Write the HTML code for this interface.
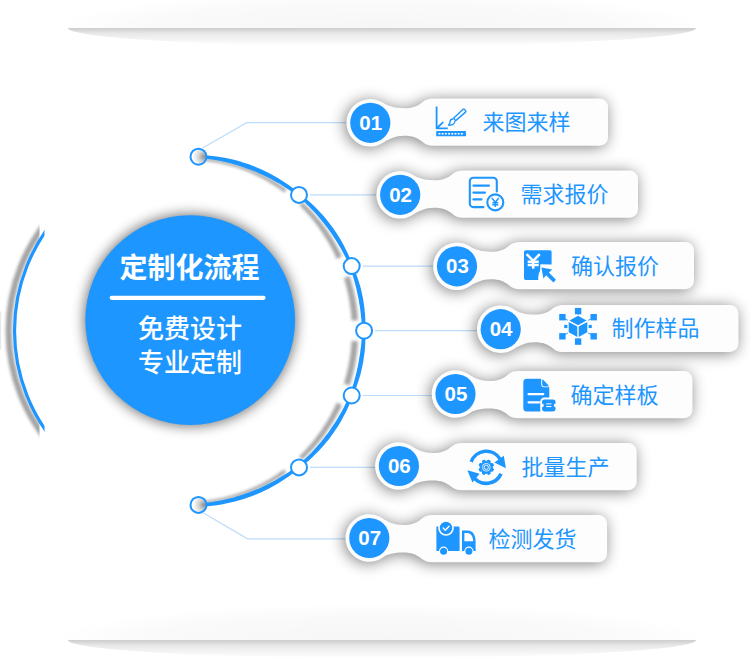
<!DOCTYPE html>
<html><head><meta charset="utf-8"><title>定制化流程</title>
<style>html,body{margin:0;padding:0;background:#fff;font-family:"Liberation Sans",sans-serif}svg{display:block}</style></head><body>
<svg width="750" height="672" viewBox="0 0 750 672" role="img" aria-label="定制化流程">
<desc>定制化流程 免费设计 专业定制 01 来图来样 02 需求报价 03 确认报价 04 制作样品 05 确定样板 06 批量生产 07 检测发货</desc>
<defs>
<filter id="ps" x="-15%" y="-60%" width="130%" height="220%"><feGaussianBlur stdDeviation="7.2"/></filter>
<filter id="cs" x="-20%" y="-20%" width="140%" height="140%"><feGaussianBlur stdDeviation="6.5"/></filter>
<filter id="as" x="-20%" y="-20%" width="140%" height="140%"><feGaussianBlur stdDeviation="1.5"/></filter>
<linearGradient id="tg" gradientUnits="userSpaceOnUse" x1="0" y1="28" x2="0" y2="46"><stop offset="0" stop-color="#000" stop-opacity=".2"/><stop offset=".3" stop-color="#000" stop-opacity=".09"/><stop offset="1" stop-color="#000" stop-opacity="0"/></linearGradient>
<linearGradient id="tg2" gradientUnits="userSpaceOnUse" x1="0" y1="640" x2="0" y2="658"><stop offset="0" stop-color="#000" stop-opacity=".2"/><stop offset=".3" stop-color="#000" stop-opacity=".09"/><stop offset="1" stop-color="#000" stop-opacity="0"/></linearGradient>
<radialGradient id="bg1" gradientUnits="userSpaceOnUse" cx="380" cy="28" r="330" gradientTransform="translate(0 28) scale(1 .11) translate(0 -28)"><stop offset="0" stop-color="#000" stop-opacity=".035"/><stop offset=".7" stop-color="#000" stop-opacity=".02"/><stop offset="1" stop-color="#000" stop-opacity="0"/></radialGradient>
<radialGradient id="bg2" gradientUnits="userSpaceOnUse" cx="380" cy="640" r="330" gradientTransform="translate(0 640) scale(1 .11) translate(0 -640)"><stop offset="0" stop-color="#000" stop-opacity=".035"/><stop offset=".7" stop-color="#000" stop-opacity=".02"/><stop offset="1" stop-color="#000" stop-opacity="0"/></radialGradient>
<clipPath id="c1"><rect x="0" y="28" width="750" height="40"/></clipPath>
<clipPath id="c2"><rect x="0" y="640" width="750" height="32"/></clipPath>
<clipPath id="cl"><rect x="0" y="200" width="44.5" height="260"/></clipPath>
<clipPath id="cl2"><rect x="0" y="200" width="39.5" height="260"/></clipPath>
<radialGradient id="ng" cx=".85" cy=".5" r=".7"><stop offset="0" stop-color="#8f8f8f"/><stop offset=".45" stop-color="#d0d0d0"/><stop offset="1" stop-color="#fff"/></radialGradient>
</defs>
<rect width="750" height="672" fill="#fff"/>
<rect x="40" y="0" width="680" height="28" fill="url(#bg1)"/>
<g clip-path="url(#c1)"><ellipse cx="382" cy="28" rx="314" ry="18" fill="url(#tg)"/></g>
<rect x="40" y="600" width="680" height="40" fill="url(#bg2)"/><rect x="0" y="311.5" width="1.2" height="38" fill="#e8e8e8"/>
<g clip-path="url(#c2)"><ellipse cx="382" cy="640" rx="314" ry="18" fill="url(#tg2)"/></g>
<g fill="none" stroke="#bddcfb" stroke-width="1.2">
<path d="M203 147.7L246.7 122.7H347"/>
<path d="M203.4 513L247.6 538.8H346"/>
<path d="M310.0 194.9H377.2"/>
<path d="M362.7 266.1H434.0"/>
<path d="M375.1 330.7H477.7"/>
<path d="M362.7 395.5H432.5"/>
<path d="M310.0 467.4H375.9"/>
</g>
<g clip-path="url(#cl2)" fill="none"><circle cx="183.29999999999998" cy="330.8" r="174.6" stroke="#000" stroke-opacity=".36" stroke-width="6.2" filter="url(#as)"/></g>
<g clip-path="url(#cl)" fill="none"><circle cx="189.1" cy="330.8" r="174.6" stroke="#1e96ff" stroke-width="3.2"/></g>
<path d="M201.5 158.0L207.1 158.5L212.8 159.2L218.5 160.1L224.1 161.2L229.6 162.5L235.2 164.0L240.6 165.7L246.1 167.6L251.4 169.7L256.7 171.9L261.9 174.4L267.1 177.0L272.1 179.8L277.1 182.8L281.9 185.9L286.7 189.2L284.4 192.4L279.8 189.1L275.2 185.9L270.4 182.9L265.5 180.0L260.5 177.4L255.4 174.9L250.3 172.6L245.0 170.5L239.7 168.6L234.4 166.8L229.0 165.3L223.5 163.9L218.0 162.8L212.4 161.9L206.9 161.1L201.3 160.6ZM302.5 202.2L305.5 205.1L308.5 208.0L311.4 211.1L314.2 214.2L317.0 217.4L319.7 220.6L322.3 223.9L324.8 227.3L327.3 230.8L329.6 234.3L331.9 237.8L334.1 241.5L336.2 245.2L338.2 248.9L340.1 252.7L342.0 256.5L336.8 259.0L335.1 255.2L333.3 251.5L331.4 247.8L329.4 244.2L327.4 240.7L325.2 237.2L323.0 233.7L320.7 230.3L318.3 227.0L315.9 223.7L313.4 220.5L310.7 217.3L308.1 214.2L305.3 211.2L302.5 208.3L299.6 205.4ZM349.6 276.0L350.5 278.6L351.3 281.3L352.0 284.1L352.7 286.8L353.4 289.5L354.1 292.3L354.7 295.0L355.2 297.8L355.7 300.6L356.2 303.3L356.6 306.1L356.9 308.9L357.3 311.7L357.6 314.6L357.8 317.4L358.0 320.2L351.6 320.6L351.4 317.9L351.2 315.1L351.0 312.4L350.7 309.7L350.3 307.0L349.9 304.3L349.5 301.6L349.0 299.0L348.5 296.3L348.0 293.6L347.4 291.0L346.8 288.3L346.1 285.7L345.4 283.1L344.7 280.5L343.9 277.9ZM358.0 341.2L357.8 344.0L357.6 346.9L357.3 349.7L357.0 352.5L356.6 355.3L356.2 358.1L355.7 360.9L355.2 363.7L354.7 366.5L354.1 369.3L353.4 372.0L352.8 374.8L352.0 377.5L351.3 380.2L350.5 382.9L349.6 385.6L343.9 383.7L344.7 381.1L345.4 378.5L346.1 375.9L346.8 373.2L347.4 370.6L348.0 367.9L348.6 365.2L349.1 362.5L349.5 359.8L350.0 357.1L350.3 354.4L350.7 351.7L351.0 349.0L351.2 346.3L351.4 343.6L351.6 340.8ZM342.0 405.1L340.1 408.9L338.2 412.8L336.1 416.5L334.0 420.2L331.8 423.9L329.5 427.5L327.1 431.0L324.7 434.5L322.1 437.9L319.5 441.2L316.8 444.5L314.0 447.7L311.2 450.8L308.2 453.8L305.2 456.8L302.2 459.7L299.3 456.5L302.2 453.6L305.1 450.7L307.8 447.6L310.5 444.5L313.2 441.4L315.7 438.1L318.2 434.8L320.6 431.5L322.9 428.0L325.2 424.6L327.3 421.0L329.4 417.5L331.4 413.8L333.3 410.1L335.1 406.4L336.8 402.6ZM286.3 472.6L281.6 475.9L276.8 479.0L271.8 482.0L266.8 484.7L261.7 487.3L256.5 489.8L251.2 492.0L245.9 494.1L240.5 495.9L235.0 497.6L229.5 499.1L224.0 500.4L218.4 501.5L212.8 502.4L207.1 503.1L201.5 503.6L201.3 501.0L206.8 500.5L212.4 499.7L217.9 498.8L223.4 497.7L228.8 496.3L234.2 494.8L239.6 493.1L244.8 491.2L250.0 489.1L255.2 486.8L260.2 484.4L265.2 481.7L270.1 478.9L274.9 475.9L279.5 472.8L284.1 469.5Z" fill="#000" fill-opacity=".35" filter="url(#as)"/>
<path d="M198.6 154.8L203.2 155.0L207.8 155.4L212.4 155.9L216.9 156.5L221.5 157.2L226.0 158.0L230.5 159.0L235.0 160.1L239.4 161.3L243.9 162.7L248.2 164.1L252.6 165.7L256.8 167.4L261.1 169.3L265.2 171.2L269.4 173.3L273.4 175.5L277.4 177.8L281.4 180.2L285.2 182.7L289.0 185.3L292.7 188.0L296.4 190.8L299.9 193.8L297.9 196.3L294.3 193.6L290.6 191.0L286.9 188.4L283.1 186.0L279.2 183.6L275.3 181.4L271.4 179.2L267.4 177.2L263.3 175.2L259.3 173.4L255.1 171.6L250.9 169.9L246.7 168.4L242.5 166.9L238.2 165.5L233.9 164.3L229.5 163.1L225.1 162.1L220.7 161.1L216.3 160.3L211.9 159.6L207.4 159.0L202.9 158.5L198.4 158.1ZM299.9 193.8L302.9 196.1L305.8 198.5L308.6 201.0L311.4 203.5L314.1 206.1L316.8 208.7L319.4 211.4L322.0 214.2L324.5 217.1L326.9 220.0L329.2 222.9L331.5 225.9L333.7 229.0L335.8 232.1L337.9 235.3L339.9 238.5L341.8 241.8L343.6 245.1L345.3 248.4L347.0 251.8L348.6 255.2L350.1 258.6L351.5 262.1L352.9 265.6L349.8 266.9L348.3 263.5L346.8 260.1L345.2 256.8L343.5 253.5L341.8 250.3L339.9 247.1L338.1 243.9L336.2 240.8L334.2 237.7L332.1 234.6L330.0 231.6L327.9 228.6L325.7 225.7L323.4 222.8L321.1 219.9L318.7 217.1L316.3 214.3L313.8 211.6L311.3 208.9L308.7 206.3L306.1 203.7L303.4 201.2L300.6 198.7L297.9 196.3ZM352.9 265.6L353.9 268.2L355.0 270.8L356.0 273.4L356.9 276.0L357.8 278.6L358.7 281.3L359.5 283.9L360.3 286.6L361.0 289.3L361.6 292.0L362.2 294.7L362.8 297.5L363.3 300.2L363.7 303.0L364.1 305.7L364.5 308.5L364.7 311.2L365.0 314.0L365.2 316.8L365.3 319.6L365.4 322.4L365.4 325.1L365.4 327.9L365.3 330.7L362.0 330.7L361.9 328.0L361.8 325.3L361.6 322.5L361.4 319.8L361.1 317.1L360.8 314.4L360.5 311.7L360.2 309.0L359.8 306.3L359.3 303.7L358.9 301.0L358.4 298.3L357.8 295.6L357.3 293.0L356.7 290.3L356.1 287.7L355.4 285.1L354.7 282.4L354.0 279.8L353.2 277.2L352.4 274.6L351.6 272.0L350.7 269.4L349.8 266.9ZM365.3 330.7L365.4 333.5L365.4 336.3L365.4 339.1L365.3 341.9L365.2 344.6L365.0 347.4L364.8 350.2L364.5 353.0L364.1 355.8L363.7 358.5L363.3 361.3L362.8 364.0L362.2 366.8L361.6 369.5L361.0 372.2L360.3 374.9L359.5 377.6L358.7 380.3L357.8 382.9L356.9 385.6L356.0 388.2L355.0 390.8L353.9 393.4L352.9 396.0L349.8 394.7L350.7 392.2L351.6 389.6L352.4 387.0L353.2 384.4L354.0 381.8L354.7 379.1L355.4 376.5L356.1 373.8L356.7 371.2L357.3 368.5L357.9 365.9L358.4 363.2L358.9 360.5L359.3 357.8L359.8 355.1L360.2 352.4L360.5 349.7L360.9 347.0L361.2 344.3L361.4 341.6L361.6 338.9L361.8 336.2L362.0 333.4L362.0 330.7ZM352.9 396.0L351.5 399.5L350.1 403.0L348.5 406.5L346.9 409.9L345.3 413.3L343.5 416.6L341.7 420.0L339.8 423.2L337.8 426.5L335.7 429.6L333.6 432.8L331.4 435.8L329.1 438.9L326.7 441.8L324.3 444.7L321.8 447.6L319.2 450.4L316.6 453.1L313.9 455.8L311.1 458.4L308.3 460.9L305.5 463.4L302.6 465.8L299.6 468.1L297.5 465.6L300.3 463.1L303.1 460.7L305.8 458.1L308.5 455.6L311.1 452.9L313.6 450.2L316.1 447.5L318.5 444.7L320.9 441.9L323.3 439.0L325.5 436.1L327.8 433.2L329.9 430.2L332.0 427.1L334.1 424.1L336.1 421.0L338.0 417.8L339.9 414.6L341.7 411.4L343.5 408.1L345.1 404.8L346.8 401.5L348.3 398.1L349.8 394.7ZM299.6 468.1L296.0 471.0L292.4 473.8L288.7 476.5L284.9 479.1L281.1 481.6L277.1 484.0L273.1 486.3L269.1 488.4L265.0 490.5L260.8 492.4L256.6 494.3L252.3 496.0L248.0 497.5L243.7 499.0L239.3 500.3L234.9 501.5L230.4 502.6L225.9 503.6L221.4 504.4L216.9 505.2L212.3 505.7L207.7 506.2L203.2 506.6L198.6 506.8L198.4 503.5L202.9 503.1L207.4 502.6L211.8 502.0L216.2 501.3L220.7 500.5L225.0 499.5L229.4 498.5L233.7 497.4L238.0 496.1L242.3 494.8L246.5 493.3L250.7 491.8L254.9 490.1L259.0 488.4L263.1 486.5L267.1 484.6L271.1 482.5L275.1 480.4L279.0 478.1L282.8 475.8L286.6 473.4L290.3 470.9L293.9 468.3L297.5 465.6Z" fill="#1e96ff"/>
<circle cx="198.5" cy="156.7" r="8" fill="url(#ng)" stroke="#1e96ff" stroke-width="2"/>
<circle cx="299.0" cy="194.9" r="8" fill="#fff" stroke="#1e96ff" stroke-width="2"/>
<circle cx="351.7" cy="266.1" r="8" fill="#fff" stroke="#1e96ff" stroke-width="2"/>
<circle cx="364.1" cy="330.7" r="8" fill="#fff" stroke="#1e96ff" stroke-width="2"/>
<circle cx="351.7" cy="395.5" r="8" fill="#fff" stroke="#1e96ff" stroke-width="2"/>
<circle cx="299.0" cy="467.4" r="8" fill="#fff" stroke="#1e96ff" stroke-width="2"/>
<circle cx="198.5" cy="504.9" r="8" fill="url(#ng)" stroke="#1e96ff" stroke-width="2"/>
<circle cx="190.2" cy="320.1" r="105.9" fill="#000" opacity=".56" filter="url(#cs)"/>
<circle cx="190.2" cy="320.1" r="104.9" fill="#1e96ff"/>
<text x="189.5" y="278" font-size="28" font-weight="bold" fill="#fff" text-anchor="middle" font-family="&quot;Liberation Sans&quot;, &quot;Noto Sans CJK SC&quot;, sans-serif">定制化流程</text>
<rect x="109.6" y="295.7" width="156" height="4.2" rx="2.1" fill="#fff"/>
<text x="190" y="338" font-size="26" font-weight="500" fill="#fff" text-anchor="middle" font-family="&quot;Liberation Sans&quot;, &quot;Noto Sans CJK SC&quot;, sans-serif">免费设计</text>
<text x="190" y="371.5" font-size="26" font-weight="500" fill="#fff" text-anchor="middle" font-family="&quot;Liberation Sans&quot;, &quot;Noto Sans CJK SC&quot;, sans-serif">专业定制</text>
<path d="M383.9 103.3C388.3 106.3 395.3 108.2 404.3 108.2C412.3 108.2 417.3 106.2 422.3 102.2C425.3 99.8 428.3 98.6 433.3 98.6H599.6A8.5 8.5 0 0 1 608.1 107.1V137.2A8.5 8.5 0 0 1 599.6 145.7H433.3C428.3 145.7 425.3 144.5 422.3 141.8C417.3 137.8 412.3 135.8 404.3 135.8C395.3 135.8 388.3 139.3 383.9 142.3A23.8 23.8 0 1 1 383.9 103.3Z" fill="#000" opacity=".5" filter="url(#ps)" transform="translate(-1.5 1.5)"/>
<path d="M383.9 103.3C388.3 106.3 395.3 108.2 404.3 108.2C412.3 108.2 417.3 106.2 422.3 102.2C425.3 99.8 428.3 98.6 433.3 98.6H599.6A8.5 8.5 0 0 1 608.1 107.1V137.2A8.5 8.5 0 0 1 599.6 145.7H433.3C428.3 145.7 425.3 144.5 422.3 141.8C417.3 137.8 412.3 135.8 404.3 135.8C395.3 135.8 388.3 139.3 383.9 142.3A23.8 23.8 0 1 1 383.9 103.3Z" fill="#fdfdfd"/>
<circle cx="370.3" cy="122.8" r="20.1" fill="#1e96ff"/>
<text x="370.7" y="129.6" font-size="20.5" font-weight="bold" fill="#fff" text-anchor="middle" font-family="&quot;Liberation Sans&quot;, sans-serif">01</text>
<text x="482.5" y="130" font-size="22" fill="#1e96ff" font-family="&quot;Liberation Sans&quot;, &quot;Noto Sans CJK SC&quot;, sans-serif">来图来样</text>
<path d="M413.8 175.3C418.2 178.3 425.2 180.2 434.2 180.2C442.2 180.2 447.2 178.2 452.2 174.2C455.2 171.8 458.2 170.6 463.2 170.6H629.5A8.5 8.5 0 0 1 638.0 179.1V209.2A8.5 8.5 0 0 1 629.5 217.7H463.2C458.2 217.7 455.2 216.5 452.2 213.8C447.2 209.8 442.2 207.8 434.2 207.8C425.2 207.8 418.2 211.3 413.8 214.3A23.8 23.8 0 1 1 413.8 175.3Z" fill="#000" opacity=".5" filter="url(#ps)" transform="translate(-1.5 1.5)"/>
<path d="M413.8 175.3C418.2 178.3 425.2 180.2 434.2 180.2C442.2 180.2 447.2 178.2 452.2 174.2C455.2 171.8 458.2 170.6 463.2 170.6H629.5A8.5 8.5 0 0 1 638.0 179.1V209.2A8.5 8.5 0 0 1 629.5 217.7H463.2C458.2 217.7 455.2 216.5 452.2 213.8C447.2 209.8 442.2 207.8 434.2 207.8C425.2 207.8 418.2 211.3 413.8 214.3A23.8 23.8 0 1 1 413.8 175.3Z" fill="#fdfdfd"/>
<circle cx="400.2" cy="194.8" r="20.1" fill="#1e96ff"/>
<text x="400.6" y="201.6" font-size="20.5" font-weight="bold" fill="#fff" text-anchor="middle" font-family="&quot;Liberation Sans&quot;, sans-serif">02</text>
<text x="520.5" y="201.8" font-size="22" fill="#1e96ff" font-family="&quot;Liberation Sans&quot;, &quot;Noto Sans CJK SC&quot;, sans-serif">需求报价</text>
<path d="M470.6 246.8C475.0 249.8 482.0 251.7 491.0 251.7C499.0 251.7 504.0 249.7 509.0 245.7C512.0 243.3 515.0 242.1 520.0 242.1H685.5A8.5 8.5 0 0 1 694.0 250.6V280.7A8.5 8.5 0 0 1 685.5 289.2H520.0C515.0 289.2 512.0 288.0 509.0 285.3C504.0 281.3 499.0 279.3 491.0 279.3C482.0 279.3 475.0 282.8 470.6 285.8A23.8 23.8 0 1 1 470.6 246.8Z" fill="#000" opacity=".5" filter="url(#ps)" transform="translate(-1.5 1.5)"/>
<path d="M470.6 246.8C475.0 249.8 482.0 251.7 491.0 251.7C499.0 251.7 504.0 249.7 509.0 245.7C512.0 243.3 515.0 242.1 520.0 242.1H685.5A8.5 8.5 0 0 1 694.0 250.6V280.7A8.5 8.5 0 0 1 685.5 289.2H520.0C515.0 289.2 512.0 288.0 509.0 285.3C504.0 281.3 499.0 279.3 491.0 279.3C482.0 279.3 475.0 282.8 470.6 285.8A23.8 23.8 0 1 1 470.6 246.8Z" fill="#fdfdfd"/>
<circle cx="457.0" cy="266.3" r="20.1" fill="#1e96ff"/>
<text x="457.4" y="273.1" font-size="20.5" font-weight="bold" fill="#fff" text-anchor="middle" font-family="&quot;Liberation Sans&quot;, sans-serif">03</text>
<text x="571" y="273.8" font-size="22" fill="#1e96ff" font-family="&quot;Liberation Sans&quot;, &quot;Noto Sans CJK SC&quot;, sans-serif">确认报价</text>
<path d="M514.4 309.7C518.7 312.7 525.7 314.6 534.7 314.6C542.7 314.6 547.7 312.6 552.7 308.6C555.7 306.2 558.7 305.0 563.7 305.0H730.0A8.5 8.5 0 0 1 738.5 313.5V343.6A8.5 8.5 0 0 1 730.0 352.1H563.7C558.7 352.1 555.7 350.9 552.7 348.2C547.7 344.2 542.7 342.2 534.7 342.2C525.7 342.2 518.7 345.7 514.4 348.7A23.8 23.8 0 1 1 514.4 309.7Z" fill="#000" opacity=".5" filter="url(#ps)" transform="translate(-1.5 1.5)"/>
<path d="M514.4 309.7C518.7 312.7 525.7 314.6 534.7 314.6C542.7 314.6 547.7 312.6 552.7 308.6C555.7 306.2 558.7 305.0 563.7 305.0H730.0A8.5 8.5 0 0 1 738.5 313.5V343.6A8.5 8.5 0 0 1 730.0 352.1H563.7C558.7 352.1 555.7 350.9 552.7 348.2C547.7 344.2 542.7 342.2 534.7 342.2C525.7 342.2 518.7 345.7 514.4 348.7A23.8 23.8 0 1 1 514.4 309.7Z" fill="#fdfdfd"/>
<circle cx="500.7" cy="329.2" r="20.1" fill="#1e96ff"/>
<text x="501.1" y="336" font-size="20.5" font-weight="bold" fill="#fff" text-anchor="middle" font-family="&quot;Liberation Sans&quot;, sans-serif">04</text>
<text x="611.5" y="336.3" font-size="22" fill="#1e96ff" font-family="&quot;Liberation Sans&quot;, &quot;Noto Sans CJK SC&quot;, sans-serif">制作样品</text>
<path d="M469.1 374.5C473.5 377.5 480.5 381.0 489.5 381.0C497.5 381.0 502.5 379.0 507.5 375.0C510.5 372.3 513.5 371.1 518.5 371.1H684.0A8.5 8.5 0 0 1 692.5 379.6V409.7A8.5 8.5 0 0 1 684.0 418.2H518.5C513.5 418.2 510.5 417.0 507.5 414.6C502.5 410.6 497.5 408.6 489.5 408.6C480.5 408.6 473.5 410.5 469.1 413.5A23.8 23.8 0 1 1 469.1 374.5Z" fill="#000" opacity=".5" filter="url(#ps)" transform="translate(-1.5 1.5)"/>
<path d="M469.1 374.5C473.5 377.5 480.5 381.0 489.5 381.0C497.5 381.0 502.5 379.0 507.5 375.0C510.5 372.3 513.5 371.1 518.5 371.1H684.0A8.5 8.5 0 0 1 692.5 379.6V409.7A8.5 8.5 0 0 1 684.0 418.2H518.5C513.5 418.2 510.5 417.0 507.5 414.6C502.5 410.6 497.5 408.6 489.5 408.6C480.5 408.6 473.5 410.5 469.1 413.5A23.8 23.8 0 1 1 469.1 374.5Z" fill="#fdfdfd"/>
<circle cx="455.5" cy="394.0" r="20.1" fill="#1e96ff"/>
<text x="455.9" y="400.8" font-size="20.5" font-weight="bold" fill="#fff" text-anchor="middle" font-family="&quot;Liberation Sans&quot;, sans-serif">05</text>
<text x="570.5" y="403" font-size="22" fill="#1e96ff" font-family="&quot;Liberation Sans&quot;, &quot;Noto Sans CJK SC&quot;, sans-serif">确定样板</text>
<path d="M412.5 446.5C416.9 449.5 423.9 453.0 432.9 453.0C440.9 453.0 445.9 451.0 450.9 447.0C453.9 444.3 456.9 443.1 461.9 443.1H628.2A8.5 8.5 0 0 1 636.7 451.6V481.7A8.5 8.5 0 0 1 628.2 490.2H461.9C456.9 490.2 453.9 489.0 450.9 486.6C445.9 482.6 440.9 480.6 432.9 480.6C423.9 480.6 416.9 482.5 412.5 485.5A23.8 23.8 0 1 1 412.5 446.5Z" fill="#000" opacity=".5" filter="url(#ps)" transform="translate(-1.5 1.5)"/>
<path d="M412.5 446.5C416.9 449.5 423.9 453.0 432.9 453.0C440.9 453.0 445.9 451.0 450.9 447.0C453.9 444.3 456.9 443.1 461.9 443.1H628.2A8.5 8.5 0 0 1 636.7 451.6V481.7A8.5 8.5 0 0 1 628.2 490.2H461.9C456.9 490.2 453.9 489.0 450.9 486.6C445.9 482.6 440.9 480.6 432.9 480.6C423.9 480.6 416.9 482.5 412.5 485.5A23.8 23.8 0 1 1 412.5 446.5Z" fill="#fdfdfd"/>
<circle cx="398.9" cy="466.0" r="20.1" fill="#1e96ff"/>
<text x="399.3" y="472.8" font-size="20.5" font-weight="bold" fill="#fff" text-anchor="middle" font-family="&quot;Liberation Sans&quot;, sans-serif">06</text>
<text x="521.5" y="474.7" font-size="22" fill="#1e96ff" font-family="&quot;Liberation Sans&quot;, &quot;Noto Sans CJK SC&quot;, sans-serif">批量生产</text>
<path d="M382.9 518.5C387.3 521.5 394.3 525.0 403.3 525.0C411.3 525.0 416.3 523.0 421.3 519.0C424.3 516.3 427.3 515.1 432.3 515.1H598.6A8.5 8.5 0 0 1 607.1 523.6V553.7A8.5 8.5 0 0 1 598.6 562.2H432.3C427.3 562.2 424.3 561.0 421.3 558.6C416.3 554.6 411.3 552.6 403.3 552.6C394.3 552.6 387.3 554.5 382.9 557.5A23.8 23.8 0 1 1 382.9 518.5Z" fill="#000" opacity=".5" filter="url(#ps)" transform="translate(-1.5 1.5)"/>
<path d="M382.9 518.5C387.3 521.5 394.3 525.0 403.3 525.0C411.3 525.0 416.3 523.0 421.3 519.0C424.3 516.3 427.3 515.1 432.3 515.1H598.6A8.5 8.5 0 0 1 607.1 523.6V553.7A8.5 8.5 0 0 1 598.6 562.2H432.3C427.3 562.2 424.3 561.0 421.3 558.6C416.3 554.6 411.3 552.6 403.3 552.6C394.3 552.6 387.3 554.5 382.9 557.5A23.8 23.8 0 1 1 382.9 518.5Z" fill="#fdfdfd"/>
<circle cx="369.3" cy="538.0" r="20.1" fill="#1e96ff"/>
<text x="369.7" y="544.8" font-size="20.5" font-weight="bold" fill="#fff" text-anchor="middle" font-family="&quot;Liberation Sans&quot;, sans-serif">07</text>
<text x="488.5" y="546.7" font-size="22" fill="#1e96ff" font-family="&quot;Liberation Sans&quot;, &quot;Noto Sans CJK SC&quot;, sans-serif">检测发货</text>
<g fill="none" stroke="#1e96ff" stroke-width="1.8" stroke-linejoin="round"><path d="M436.6 106.4V128.3H447.8M437 128L443.2 122.2"/></g><rect x="436.2" y="131.1" width="29.8" height="5.2" fill="#1e96ff" rx=".6"/><path d="M438.5 133.7H464" stroke="#fff" stroke-width="1.5" stroke-dasharray="1.9 1.3" fill="none"/><g fill="none" stroke="#1e96ff" stroke-width="1.4" stroke-linejoin="round"><path d="M453.6 118.2L463.1 109.3A1 1 0 0 1 464.5 109.4L465.6 110.7A1 1 0 0 1 465.5 112.1L455.7 120.6Z"/><path d="M453.2 119C451.6 118.9 450.3 120 450.1 121.7C450 122.9 449.5 124.1 448.6 125.2C450.6 125.3 452.4 125 453.6 124C454.8 123 455.2 121.7 454.8 120.6"/></g><g fill="none" stroke="#1e96ff" stroke-width="2.1" stroke-linecap="round" stroke-linejoin="round"><path d="M483.5 207.1H473.4A3.6 3.6 0 0 1 469.8 203.5V181.3A3.6 3.6 0 0 1 473.4 177.7H493.2A3.6 3.6 0 0 1 496.8 181.3V191.5"/><path d="M473.4 185.6H489M473.4 192.6H485M473.4 199.4H481.5"/><circle cx="495.3" cy="202.4" r="8"/></g><g fill="none" stroke="#1e96ff" stroke-width="1.5" stroke-linecap="butt"><path d="M491.79 198.10L495.30 202.24L498.81 198.10M495.30 202.24V207.10M492.35 202.78H498.25M492.35 204.76H498.25"/></g><path fill="#1e96ff" d="M525.6 250.2H550A1.6 1.6 0 0 1 551.6 251.8V264.6L540.4 264.2L539.6 279.9H525.6A1.6 1.6 0 0 1 524 278.3V251.8A1.6 1.6 0 0 1 525.6 250.2Z"/><path fill="#fff" d="M538.3 279.9C537.8 272 541 266 551.6 265.4V282H538.3Z"/><path fill="#1e96ff" d="M541.4 267.6L552.2 269.6L548.9 272.6L556 279.8L553.4 282.6L546.2 275.3L543.4 278.5Z"/><g fill="none" stroke="#fff" stroke-width="2.5" stroke-linecap="butt"><path d="M526.63 254.10L533.20 260.82L539.77 254.10M533.20 260.82V268.70M527.68 261.69H538.72M527.68 264.90H538.72"/></g><g stroke="#1e96ff" stroke-width="1" fill="none"><path d="M578.0 326.5L578.1 311.1"/><path d="M578.0 326.5L593.7 317.2"/><path d="M578.0 326.5L593.7 336.3"/><path d="M578.0 326.5L578.1 341.6"/><path d="M578.0 326.5L562.4 336.3"/><path d="M578.0 326.5L562.4 317.2"/></g><path fill="#fff" d="M578 314.6L588.6 320.4V332.6L578 338.4L567.4 332.6V320.4Z"/><path fill="#1e96ff" d="M578 315.8L586.6 320.5L578 325.2L569.4 320.5Z"/><path fill="#1e96ff" d="M568.7 321.9L577.3 326.6V337L568.7 332.2Z"/><path fill="#1e96ff" d="M587.3 321.9L578.7 326.6V337L587.3 332.2Z"/><rect x="574.9" y="307.9" width="6.4" height="6.4" fill="#1e96ff"/><rect x="590.5" y="314.0" width="6.4" height="6.4" fill="#1e96ff"/><rect x="590.5" y="333.1" width="6.4" height="6.4" fill="#1e96ff"/><rect x="574.9" y="338.4" width="6.4" height="6.4" fill="#1e96ff"/><rect x="559.2" y="333.1" width="6.4" height="6.4" fill="#1e96ff"/><rect x="559.2" y="314.0" width="6.4" height="6.4" fill="#1e96ff"/><rect x="564.2" y="324.9" width="3.2" height="3.2" fill="#1e96ff"/><rect x="588.6" y="324.9" width="3.2" height="3.2" fill="#1e96ff"/><path fill="#1e96ff" d="M526.8 378.8H541.5L549.3 386.8V400L540 411.4H526.8A3.5 3.5 0 0 1 523.3 407.9V382.3A3.5 3.5 0 0 1 526.8 378.8Z"/><path fill="#fff" d="M541.2 378.6V384.2A3 3 0 0 0 544.2 387.2H549.6V386.4H544.4A2.2 2.2 0 0 1 542.2 384.2V378.6Z"/><path fill="#1e96ff" d="M542.9 379.6L548.6 385.6H544.6A1.7 1.7 0 0 1 542.9 383.9Z"/><g stroke="#fff" stroke-width="2.3" stroke-linecap="round" fill="none"><path d="M528.6 394.2H543.2M528.6 402.3H539"/></g><rect x="540.2" y="397.6" width="17.2" height="15.6" rx="4.2" fill="#fff"/><path fill="#1e96ff" d="M544.4 399.4H553.2A2.4 2.4 0 0 1 555.6 401.8V403.6A1.8 1.8 0 0 0 555.6 407.2V409A2.4 2.4 0 0 1 553.2 411.4H544.4A2.4 2.4 0 0 1 542 409V407.2A1.8 1.8 0 0 0 542 403.6V401.8A2.4 2.4 0 0 1 544.4 399.4Z"/><g stroke="#fff" stroke-width="1" fill="none"><path d="M546.2 403.9H551.4M546.2 406.6H551.4"/></g><g fill="none" stroke="#1e96ff" stroke-width="3.6"><path d="M471.2 461.8A16.1 16.1 0 0 1 500.2 459.2"/><path d="M501.0 473.8A16.1 16.1 0 0 1 473.3 476.8"/></g><path fill="#1e96ff" d="M503.8 455.8L505.9 468.2L494.4 462.6Z"/><path fill="#1e96ff" d="M467.4 470.3L472.4 482.4L479.6 473.7Z"/><path fill="#1e96ff" d="M493.6 469.1L492.7 471.2L491.0 471.0L490.0 472.0L490.2 473.7L488.1 474.6L487.1 473.3L485.5 473.3L484.5 474.6L482.4 473.7L482.6 472.0L481.6 471.0L479.9 471.2L479.0 469.1L480.3 468.1L480.3 466.5L479.0 465.5L479.9 463.4L481.6 463.6L482.6 462.6L482.4 460.9L484.5 460.0L485.5 461.3L487.1 461.3L488.1 460.0L490.2 460.9L490.0 462.6L491.0 463.6L492.7 463.4L493.6 465.5L492.3 466.5L492.3 468.1Z" stroke="#1e96ff" stroke-width="1" stroke-linejoin="round"/><circle cx="486.3" cy="467.3" r="3.9" fill="none" stroke="#fff" stroke-width=".8"/><circle cx="486.3" cy="467.3" r="2.1" fill="none" stroke="#fff" stroke-width=".9"/><path fill="#1e96ff" d="M436.4 526.6H458.2A1.4 1.4 0 0 1 459.6 528V550.9H436.4Z"/><path fill="#1e96ff" d="M462 530.6H468.2C472.6 530.8 475.6 535.2 475.6 541.2V550.9H462Z"/><path fill="#fff" d="M464.4 533H467.6C470.8 533.2 473 536.4 473.2 541.2H464.4Z"/><circle cx="443.6" cy="551.2" r="4.6" fill="#fff"/><circle cx="443.6" cy="551.2" r="3.5" fill="#1e96ff"/><circle cx="468.9" cy="551.2" r="4.6" fill="#fff"/><circle cx="468.9" cy="551.2" r="3.5" fill="#1e96ff"/><circle cx="446" cy="528" r="7.8" fill="#fff"/><circle cx="446" cy="528" r="6.2" fill="#1e96ff"/><path d="M443.2 528.1L445.3 530.2L449 526.2" fill="none" stroke="#fff" stroke-width="1.4" stroke-linecap="round" stroke-linejoin="round"/>
</svg></body></html>
